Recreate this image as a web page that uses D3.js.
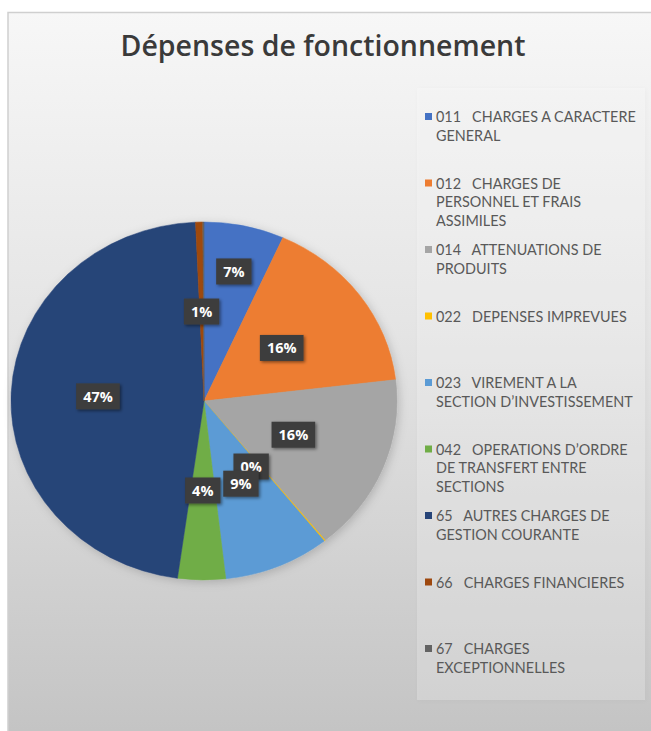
<!DOCTYPE html>
<meta charset="utf-8">
<html>
<style>
body { margin: 0; background: #fff; }
text { font-family: "Open Sans", sans-serif; }
.legend text { font-family: Lato, sans-serif; font-size: 14.4px; fill: #595959; white-space: pre; }
.lbl text { font-family: "Open Sans", sans-serif; font-weight: 700; font-size: 14.5px; fill: #fff; }
</style>
<body>
<svg width="651" height="731"></svg>

<script src="https://cdnjs.cloudflare.com/ajax/libs/d3/7.8.5/d3.min.js"></script>
<script>

// data
var codes = ["011", "012", "014", "022", "023", "042", "65", "66", "67"];
var names = ["CHARGES A CARACTERE GENERAL",
             "CHARGES DE PERSONNEL ET FRAIS ASSIMILES",
             "ATTENUATIONS DE PRODUITS",
             "DEPENSES IMPREVUES",
             "VIREMENT A LA SECTION D\u2019INVESTISSEMENT",
             "OPERATIONS D\u2019ORDRE DE TRANSFERT ENTRE SECTIONS",
             "AUTRES CHARGES DE GESTION COURANTE",
             "CHARGES FINANCIERES",
             "CHARGES EXCEPTIONNELLES"];
var shares = [6.7, 16.4, 16.1, 0.1, 8.9, 4.0, 47.1, 0.6, 0.1];
var colors = ["#4472C4", "#ED7D31", "#A5A5A5", "#FFC000", "#5B9BD5",
              "#70AD47", "#264478", "#9E480E", "#636363"];
var title = "Dépenses de fonctionnement";

var svg = d3.select("svg");

var rows = codes.map(function(c, i) {
  return { code: c, name: names[i], value: shares[i], color: colors[i] };
});
var total = d3.sum(shares);

var defs = svg.append("defs");
var bg = defs.append("linearGradient").attr("id", "bg")
    .attr("x1", 0).attr("y1", 0).attr("x2", 0).attr("y2", 1);
bg.append("stop").attr("offset", "0%").attr("stop-color", "#f7f7f7");
bg.append("stop").attr("offset", "45%").attr("stop-color", "#e4e4e4");
bg.append("stop").attr("offset", "100%").attr("stop-color", "#c4c4c4");

defs.append("filter").attr("id", "pieShadow")
    .attr("x", "-20%").attr("y", "-20%").attr("width", "140%").attr("height", "140%")
  .append("feDropShadow").attr("dx", 2).attr("dy", 2).attr("stdDeviation", 5)
    .attr("flood-color", "#000").attr("flood-opacity", 0.18);

defs.append("filter").attr("id", "boxShadow")
    .attr("x", "-30%").attr("y", "-30%").attr("width", "160%").attr("height", "160%")
  .append("feDropShadow").attr("dx", 1.5).attr("dy", 1.5).attr("stdDeviation", 1.5)
    .attr("flood-color", "#000").attr("flood-opacity", 0.45);

defs.append("filter").attr("id", "legShadow")
    .attr("x", "-10%").attr("y", "-10%").attr("width", "120%").attr("height", "120%")
  .append("feDropShadow").attr("dx", 1).attr("dy", 1).attr("stdDeviation", 2)
    .attr("flood-color", "#000").attr("flood-opacity", 0.12);

// chart area
svg.append("rect")
    .attr("x", 8).attr("y", 12).attr("width", 651 - 8).attr("height", 731 - 12)
    .attr("fill", "url(#bg)");
svg.append("path")
    .attr("d", "M8,731V12.5H651")
    .attr("fill", "none").attr("stroke", "#cfcfcf").attr("stroke-width", 1.5);

// title
svg.append("text")
    .attr("x", 323).attr("y", 56)
    .attr("text-anchor", "middle")
    .attr("font-size", 28.5).attr("font-weight", 600)
    .attr("fill", "#3a3a3a")
    .text(title);

// pie (slightly wider than tall, as in the picture)
var cx = 204, cy = 401, r = 179, sx = 193 / 179;

var pie = d3.pie().sort(null).value(function(d) { return d.value; });
var arcs = pie(rows);
var arc = d3.arc().innerRadius(0).outerRadius(r);

var pieG = svg.append("g")
    .attr("transform", "translate(" + cx + "," + cy + ")")
    .attr("filter", "url(#pieShadow)");
pieG.append("g")
    .attr("transform", "scale(" + sx + ",1)")
  .selectAll("path")
  .data(arcs)
  .enter().append("path")
    .attr("d", arc)
    .attr("fill", function(d) { return d.data.color; })
    .attr("stroke", function(d) { return d.data.color; })
    .attr("stroke-width", 0.5);

// data labels (the last, hair-thin slice has its label hidden, as in the picture)
var pct = d3.format(".0%");
var labelTweak = { "011": { k: 0.74, da: 0 }, "022": { k: 0.44, da: 5 }, "65": { k: 0.55, da: 0 } };

function labelPos(d) {
  var t = labelTweak[d.data.code] || { k: 0.5, da: 0 };
  var a = (d.startAngle + d.endAngle) / 2 + t.da * Math.PI / 180;
  return [cx + Math.sin(a) * r * t.k * sx, cy - Math.cos(a) * r * t.k];
}

// tiny slices first so bigger labels sit on top
var ordered = arcs.filter(function(d) { return d.data.code !== "67"; })
  .sort(function(a, b) {
    return (a.data.value / total >= 0.005) - (b.data.value / total >= 0.005);
  });

var lbl = svg.append("g").attr("class", "lbl")
  .selectAll("g")
  .data(ordered)
  .enter().append("g")
    .attr("transform", function(d) { return "translate(" + labelPos(d) + ")"; });

lbl.append("rect")
    .attr("fill", "#3d3d3d")
    .attr("filter", "url(#boxShadow)");
lbl.append("text")
    .attr("text-anchor", "middle")
    .attr("dy", "0.36em")
    .text(function(d) { return pct(d.data.value / total); });
lbl.each(function() {
  var g = d3.select(this);
  var w = g.select("text").node().getComputedTextLength() + 14;
  g.select("rect").attr("x", -w / 2).attr("y", -13).attr("width", w).attr("height", 26);
});

// legend
var leg = svg.append("g").attr("class", "legend");
leg.append("rect")
    .attr("x", 417).attr("y", 88).attr("width", 228).attr("height", 612)
    .attr("fill", "#ffffff").attr("fill-opacity", 0.22)
    .attr("filter", "url(#legShadow)");

var ly = d3.scalePoint().domain(codes).range([117, 649]);
var lineH = 18.5, wrapW = 202;

var meas = leg.append("text").attr("visibility", "hidden");
function width(s) { meas.text(s); return meas.node().getComputedTextLength(); }

function wrap(first, words) {
  var lines = [], cur = first;
  words.forEach(function(w) {
    var tryS = cur + (cur.endsWith(" ") ? "" : " ") + w;
    if (width(tryS) > wrapW && cur !== first) { lines.push(cur); cur = w; }
    else cur = tryS;
  });
  lines.push(cur);
  return lines;
}

var item = leg.selectAll("g.item")
  .data(rows)
  .enter().append("g").attr("class", "item")
    .attr("transform", function(d) { return "translate(0," + ly(d.code) + ")"; });

item.append("rect")
    .attr("x", 425).attr("y", -4).attr("width", 7).attr("height", 7)
    .attr("fill", function(d) { return d.color; });

item.append("text")
    .attr("x", 436)
    .each(function(d) {
      var lines = wrap(d.code + "   ", d.name.split(" "));
      var t = d3.select(this);
      lines.forEach(function(l, i) {
        t.append("tspan").attr("x", 436).attr("y", i * lineH).attr("dy", "0.36em").text(l);
      });
    });
meas.remove();

</script>
</body>
</html>
